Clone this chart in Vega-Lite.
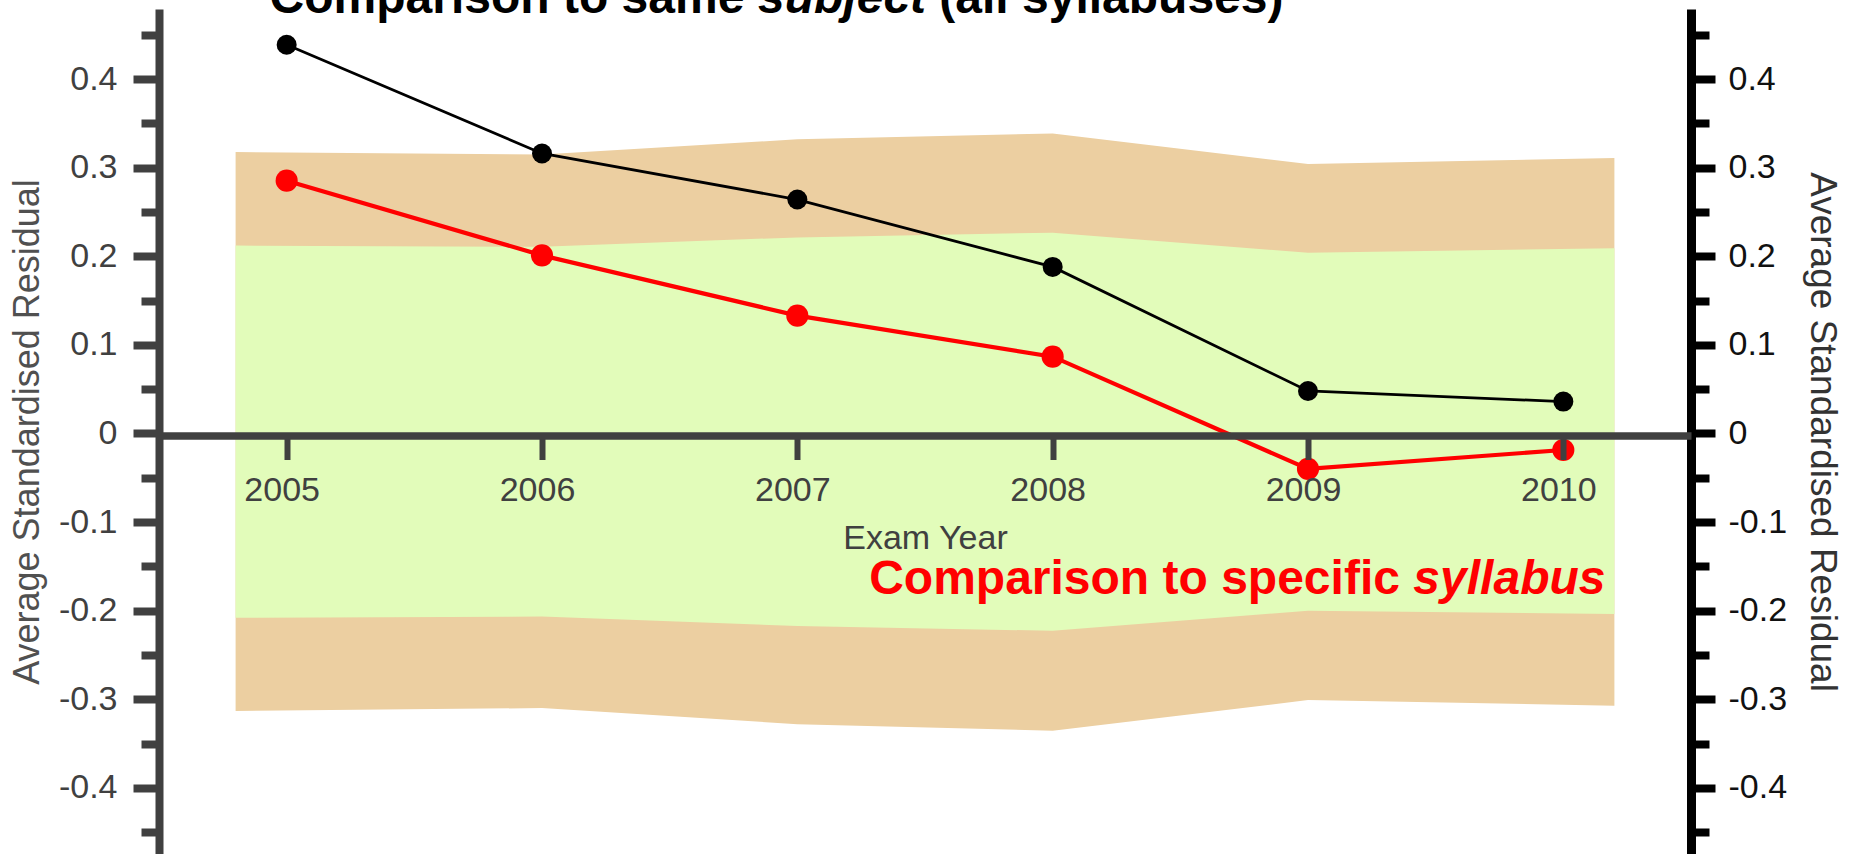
{
  "$schema": "https://vega.github.io/schema/vega-lite/v6.json",
  "autosize": {"type": "none"},
  "width": 1532,
  "height": 845,
  "padding": {"left": 159, "top": 9, "right": 161, "bottom": 0},
  "background": "white",
  "config": {"view": {"stroke": null}, "font": "Liberation Sans"},
  "datasets": {
    "bands": [
      {"year": 2004.8, "outer_lo": -0.3132, "inner_lo": -0.2079, "inner_hi": 0.212, "outer_hi": 0.3175},
      {"year": 2006, "outer_lo": -0.3098, "inner_lo": -0.2065, "inner_hi": 0.2107, "outer_hi": 0.3147},
      {"year": 2007, "outer_lo": -0.328, "inner_lo": -0.2173, "inner_hi": 0.2213, "outer_hi": 0.332},
      {"year": 2008, "outer_lo": -0.3354, "inner_lo": -0.2226, "inner_hi": 0.2266, "outer_hi": 0.3386},
      {"year": 2009, "outer_lo": -0.3008, "inner_lo": -0.1999, "inner_hi": 0.204, "outer_hi": 0.304},
      {"year": 2010.2, "outer_lo": -0.3072, "inner_lo": -0.2037, "inner_hi": 0.209, "outer_hi": 0.311}
    ],
    "series": [
      {"year": 2005, "subject": 0.4386, "syllabus": 0.2853},
      {"year": 2006, "subject": 0.316, "syllabus": 0.201},
      {"year": 2007, "subject": 0.264, "syllabus": 0.133},
      {"year": 2008, "subject": 0.188, "syllabus": 0.0867},
      {"year": 2009, "subject": 0.048, "syllabus": -0.040},
      {"year": 2010, "subject": 0.036, "syllabus": -0.0186}
    ]
  },
  "resolve": {"scale": {"y": "independent"}},
  "layer": [
    {
      "layer": [
        {
          "data": {"name": "bands"},
          "mark": {"type": "area", "color": "#ECCFA1", "opacity": 1},
          "encoding": {
            "x": {"field": "year", "type": "quantitative"},
            "y": {"field": "outer_lo", "type": "quantitative"},
            "y2": {"field": "outer_hi"}
          }
        },
        {
          "data": {"name": "bands"},
          "mark": {"type": "area", "color": "#E2FCBA", "opacity": 1},
          "encoding": {
            "x": {"field": "year", "type": "quantitative"},
            "y": {"field": "inner_lo", "type": "quantitative"},
            "y2": {"field": "inner_hi"}
          }
        },
        {
          "data": {"name": "series"},
          "mark": {"type": "line", "color": "black", "strokeWidth": 2.8},
          "encoding": {
            "x": {"field": "year", "type": "quantitative"},
            "y": {"field": "subject", "type": "quantitative"}
          }
        },
        {
          "data": {"name": "series"},
          "mark": {"type": "point", "filled": true, "color": "black", "size": 400, "opacity": 1, "strokeWidth": 0},
          "encoding": {
            "x": {"field": "year", "type": "quantitative"},
            "y": {"field": "subject", "type": "quantitative"}
          }
        },
        {
          "data": {"values": [{"t": "Comparison to same"}]},
          "mark": {"type": "text", "align": "left", "baseline": "alphabetic", "fontSize": 48, "fontWeight": "bold", "color": "black", "font": "Liberation Sans"},
          "encoding": {
            "x": {"datum": 2004.933, "type": "quantitative"},
            "y": {"datum": 0.4741, "type": "quantitative"},
            "text": {"field": "t"}
          }
        },
        {
          "data": {"values": [{"t": "subject"}]},
          "mark": {"type": "text", "align": "left", "baseline": "alphabetic", "fontSize": 48, "fontWeight": "bold", "fontStyle": "italic", "color": "black", "font": "Liberation Sans"},
          "encoding": {
            "x": {"datum": 2006.846, "type": "quantitative"},
            "y": {"datum": 0.4741, "type": "quantitative"},
            "text": {"field": "t"}
          }
        },
        {
          "data": {"values": [{"t": "(all syllabuses)"}]},
          "mark": {"type": "text", "align": "left", "baseline": "alphabetic", "fontSize": 48, "fontWeight": "bold", "color": "black", "font": "Liberation Sans"},
          "encoding": {
            "x": {"datum": 2007.556, "type": "quantitative"},
            "y": {"datum": 0.4741, "type": "quantitative"},
            "text": {"field": "t"}
          }
        },
        {
          "data": {"values": [{"t": "Comparison to specific"}]},
          "mark": {"type": "text", "align": "right", "baseline": "alphabetic", "fontSize": 48, "fontWeight": "bold", "color": "#FF0000", "font": "Liberation Sans"},
          "encoding": {
            "x": {"datum": 2009.36, "type": "quantitative"},
            "y": {"datum": -0.1811, "type": "quantitative"},
            "text": {"field": "t"}
          }
        },
        {
          "data": {"values": [{"t": "syllabus"}]},
          "mark": {"type": "text", "align": "right", "baseline": "alphabetic", "fontSize": 48, "fontWeight": "bold", "fontStyle": "italic", "color": "#FF0000", "font": "Liberation Sans"},
          "encoding": {
            "x": {"datum": 2010.165, "type": "quantitative"},
            "y": {"datum": -0.1811, "type": "quantitative"},
            "text": {"field": "t"}
          }
        }
      ],
      "encoding": {
        "x": {
          "type": "quantitative",
          "scale": {"domain": [2004.5, 2010.5], "nice": false, "zero": false},
          "axis": {
            "title": "Exam Year",
            "values": [2005, 2006, 2007, 2008, 2009, 2010],
            "format": "d",
            "offset": -418.5,
            "zindex": 1,
            "grid": false,
            "domainColor": "#404040",
            "domainWidth": 7.5,
            "tickColor": "#404040",
            "tickWidth": 6,
            "tickSize": 24,
            "labelFont": "Liberation Sans",
            "labelFontSize": 34,
            "labelColor": "#404040",
            "labelPadding": 14,
            "labelOffset": -5,
            "labelFlush": false,
            "titleFont": "Liberation Sans",
            "titleFontSize": 34,
            "titleFontWeight": "normal",
            "titleColor": "#404040",
            "titlePadding": 14
          }
        },
        "y": {
          "type": "quantitative",
          "scale": {"domain": [-0.4745, 0.479], "nice": false, "zero": false},
          "axis": {
            "orient": "left",
            "title": "Average Standardised Residual",
            "values": [-0.45, -0.4, -0.35, -0.3, -0.25, -0.2, -0.15, -0.1, -0.05, 0, 0.05, 0.1, 0.15, 0.2, 0.25, 0.3, 0.35, 0.4, 0.45],
            "labelExpr": "abs(round(datum.value*10)-datum.value*10)<0.01 ? (datum.value==0 ? '0' : (datum.value<0 ? '-' : '') + format(abs(datum.value), '.1f')) : ''",
            "grid": false,
            "domainColor": "#404040",
            "domainWidth": 8,
            "tickColor": "#404040",
            "tickWidth": 8,
            "tickSize": {"condition": {"test": "abs(round(datum.value*10)-datum.value*10)<0.01", "value": 26}, "value": 18},
            "labelFont": "Liberation Sans",
            "labelFontSize": 34,
            "labelColor": "#404040",
            "labelPadding": 16,
            "titleFont": "Liberation Sans",
            "titleFontSize": 36,
            "titleFontWeight": "normal",
            "titleColor": "#505050",
            "titlePadding": 12
          }
        }
      }
    },
    {
      "data": {"name": "series"},
      "layer": [
        {
          "mark": {"type": "line", "color": "#FF0000", "strokeWidth": 4.2}
        },
        {
          "mark": {"type": "point", "filled": true, "color": "#FF0000", "size": 490, "opacity": 1, "strokeWidth": 0}
        }
      ],
      "encoding": {
        "x": {"field": "year", "type": "quantitative"},
        "y": {
          "field": "syllabus",
          "type": "quantitative",
          "scale": {"domain": [-0.4745, 0.479], "nice": false, "zero": false},
          "axis": {
            "orient": "right",
            "title": "Average Standardised Residual",
            "titleAngle": 90,
            "values": [-0.45, -0.4, -0.35, -0.3, -0.25, -0.2, -0.15, -0.1, -0.05, 0, 0.05, 0.1, 0.15, 0.2, 0.25, 0.3, 0.35, 0.4, 0.45],
            "labelExpr": "abs(round(datum.value*10)-datum.value*10)<0.01 ? (datum.value==0 ? '0' : (datum.value<0 ? '-' : '') + format(abs(datum.value), '.1f')) : ''",
            "grid": false,
            "domainColor": "black",
            "domainWidth": 9,
            "tickColor": "black",
            "tickWidth": 8,
            "tickSize": {"condition": {"test": "abs(round(datum.value*10)-datum.value*10)<0.01", "value": 24}, "value": 18},
            "labelFont": "Liberation Sans",
            "labelFontSize": 34,
            "labelColor": "#111111",
            "labelPadding": 13,
            "titleFont": "Liberation Sans",
            "titleFontSize": 37,
            "titleFontWeight": "normal",
            "titleColor": "#333333",
            "titlePadding": 16
          }
        }
      }
    }
  ]
}
